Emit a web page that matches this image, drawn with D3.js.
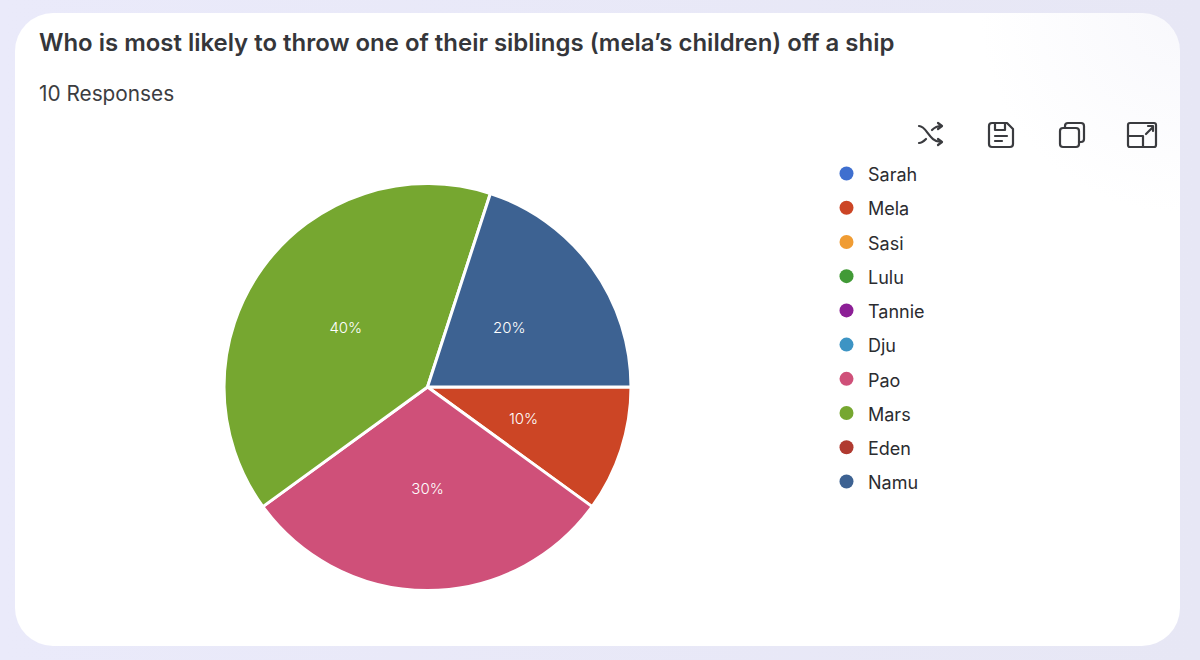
<!DOCTYPE html>
<html>
<head>
<meta charset="utf-8">
<script src="https://cdn.jsdelivr.net/npm/d3@7"></script>
<style>
  html, body { margin: 0; padding: 0; background: #e9e9f8; }
  svg { display: block; font-family: Inter, "Noto Sans", sans-serif; }
</style>
</head>
<body>
<svg id="chart" width="1200" height="660"></svg>
<script>
const titleText = "Who is most likely to throw one of their siblings (mela\u2019s children) off a ship";
const subtitleText = "10 Responses";
const names = ["Sarah", "Mela", "Sasi", "Lulu", "Tannie", "Dju", "Pao", "Mars", "Eden", "Namu"];
const shares = [0, 10, 0, 0, 0, 0, 30, 40, 0, 20];
const colors = ["#3f6fcf", "#cc4525", "#f09c33", "#419a36", "#8c1f96", "#3d94c4", "#cf5079", "#76a730", "#b03a30", "#3d6292"];

const svg = d3.select("#chart");
const width = +svg.attr("width");
const height = +svg.attr("height");

const defs = svg.append("defs");
const bgGrad = defs.append("linearGradient").attr("id", "bgGrad")
    .attr("x1", 0).attr("y1", 0).attr("x2", 1).attr("y2", 0);
bgGrad.append("stop").attr("offset", "0%").attr("stop-color", "#eaeafa");
bgGrad.append("stop").attr("offset", "100%").attr("stop-color", "#e7e7f5");
// faint tint in the top right corner of the card
const cardGrad = defs.append("radialGradient").attr("id", "cardGrad")
    .attr("gradientUnits", "userSpaceOnUse")
    .attr("cx", 1180).attr("cy", 13).attr("r", 200);
cardGrad.append("stop").attr("offset", "0%").attr("stop-color", "#f8f8fc");
cardGrad.append("stop").attr("offset", "100%").attr("stop-color", "#ffffff");

svg.append("rect").attr("width", width).attr("height", height).attr("fill", "url(#bgGrad)");
svg.append("rect")
    .attr("x", 15).attr("y", 13)
    .attr("width", 1165).attr("height", 633)
    .attr("rx", 38).attr("ry", 38)
    .attr("fill", "url(#cardGrad)");

svg.append("text").attr("x", 39).attr("y", 51)
    .attr("font-size", 23.95).attr("font-weight", 600).attr("fill", "#35363a")
    .text(titleText);
svg.append("text").attr("x", 39).attr("y", 100.5)
    .attr("font-size", 20.8).attr("fill", "#3c3d41")
    .text(subtitleText);

// pie, starts at 3 o'clock and goes clockwise
const pie = d3.pie().value(d => d.share).sort(null)
    .startAngle(Math.PI / 2).endAngle(Math.PI / 2 + 2 * Math.PI);
const arc = d3.arc().innerRadius(0).outerRadius(203.5);
const labelArc = d3.arc().innerRadius(101).outerRadius(101);

const tableRows = names.map((n, i) => ({name: n, share: shares[i], color: colors[i]}));
const slices = pie(tableRows).filter(d => d.data.share > 0);

const pieG = svg.append("g").attr("transform", "translate(427.5,387)");
pieG.selectAll("path")
    .data(slices)
    .join("path")
    .attr("d", arc)
    .attr("fill", d => d.data.color)
    .attr("stroke", "#ffffff")
    .attr("stroke-width", 3)
    .attr("stroke-linejoin", "round");
pieG.selectAll("text")
    .data(slices)
    .join("text")
    .attr("transform", d => `translate(${labelArc.centroid(d)})`)
    .attr("text-anchor", "middle")
    .attr("dominant-baseline", "central")
    .attr("font-size", 15)
    .attr("font-weight", 300)
    .attr("fill", "#ffffff")
    .text(d => d.data.share + "%");

// legend
const legendY = d3.scalePoint().domain(names).range([174, 482]);
const legend = svg.append("g").selectAll("g")
    .data(tableRows)
    .join("g")
    .attr("transform", d => `translate(0,${legendY(d.name)})`);
legend.append("circle").attr("cx", 846.5).attr("cy", -0.5).attr("r", 7).attr("fill", d => d.color);
legend.append("text").attr("x", 868).attr("y", 7.2)
    .attr("font-size", 18).attr("fill", "#2b2c30")
    .text(d => d.name);

// toolbar icons
const icons = svg.append("g")
    .attr("fill", "none").attr("stroke", "#3a3b3f").attr("stroke-width", 2.2)
    .attr("stroke-linecap", "round").attr("stroke-linejoin", "round");
const shuffle = icons.append("g").attr("transform", "translate(918,123)");
shuffle.append("path").attr("d", "M1 3 C9 3 11 19 23 19 M1 20 C4 20 6 18 8 16 M14 7 C16 5 19 3 23 3");
shuffle.append("path").attr("d", "M20 0 L24 3 L20 6 M20 16 L24 19 L20 22");
const save = icons.append("g").attr("transform", "translate(989,123)");
save.append("path").attr("d", "M3 0 H18 L24 6 V21 Q24 24 21 24 H3 Q0 24 0 21 V3 Q0 0 3 0 Z");
save.append("path").attr("d", "M6 0 V7 H16 V0 M6 13 H18 M6 18 H13");
const copy = icons.append("g").attr("transform", "translate(1060,123)");
copy.append("rect").attr("x", 0).attr("y", 5).attr("width", 19).attr("height", 19).attr("rx", 3);
copy.append("path").attr("d", "M5 5 V3 Q5 0 8 0 H21 Q24 0 24 3 V16 Q24 19 21 19 H19");
const expand = icons.append("g").attr("transform", "translate(1128,123)");
expand.append("rect").attr("x", 0).attr("y", 0).attr("width", 28).attr("height", 24).attr("rx", 2);
expand.append("path").attr("d", "M0 13 H15 V24 M18 11 L25 4 M20 3 H25 V8");
</script>
</body>
</html>
